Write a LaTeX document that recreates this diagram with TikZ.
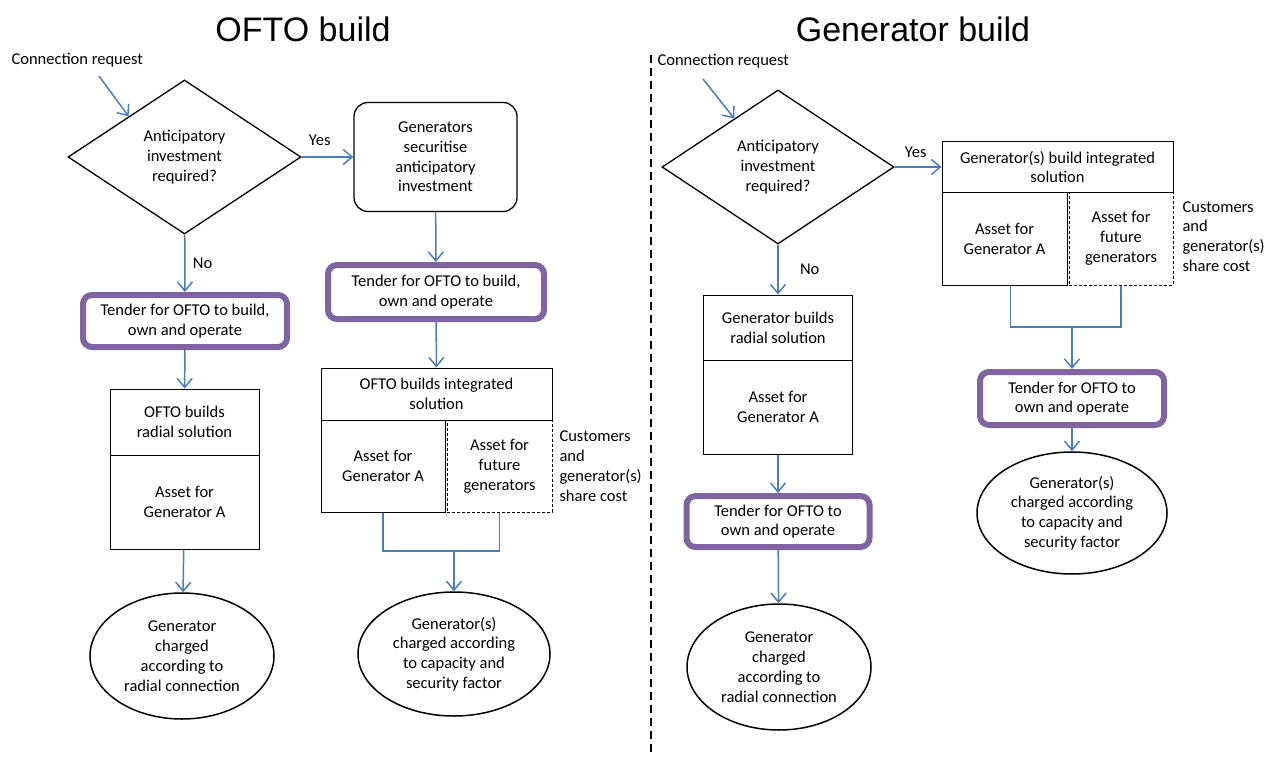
\documentclass[tikz,border=0pt]{standalone}
\usepackage{fontspec}
\setmainfont{Carlito}
\newfontfamily\headfont{Liberation Sans}
\usepackage{tikz}
\usetikzlibrary{arrows.meta,shapes.geometric,positioning}
\definecolor{flowblue}{RGB}{74,126,187}
\definecolor{tenderpurple}{RGB}{128,100,162}

\begin{document}
\begin{tikzpicture}[x=1pt,y=-1pt,font=\fontsize{16.5}{19.8}\selectfont,
    flow/.style={draw=flowblue,line width=1.5pt,-{Straight Barb[length=9pt,width=15pt]}},
    link/.style={draw=flowblue,line width=1.5pt},
    decision/.style={diamond,draw,line width=1.3pt,inner sep=0pt,aspect=1.5,align=center},
    box/.style={rectangle,draw,line width=1pt,inner sep=0pt,align=center},
    futurebox/.style={box,dash pattern=on 3pt off 2pt},
    tender/.style={rectangle,rounded corners=9pt,draw=tenderpurple,line width=6pt,inner sep=0pt,align=center},
    outcome/.style={ellipse,draw,line width=1.5pt,inner sep=0pt,align=center},
    title/.style={font=\headfont\fontsize{34}{40}\selectfont}]

  \useasboundingbox (0,0) rectangle (1267,756);

  % OFTO build
  \node[title] (t1) at (303,29) {OFTO build};
  \node[anchor=west] (req1) at (8,60) {Connection request};
  \coordinate (req1e) at (99,76);
  \node[decision,minimum width=233pt,minimum height=154pt] (d1) at (184.5,157) {Anticipatory\\investment\\required?};
  \node[box,rounded corners=14pt,line width=1.3pt,minimum width=163pt,minimum height=109pt] (sec) at (435.5,157) {Generators\\securitise\\anticipatory\\investment};
  \node[tender,minimum width=204pt,minimum height=52pt] (ten1) at (185,321) {Tender for OFTO to build,\\own and operate};
  \node[tender,minimum width=216pt,minimum height=54pt] (ten2) at (436,292) {Tender for OFTO to build,\\own and operate};
  \node[box,minimum width=149pt,minimum height=66pt] (rad1a) at (184.5,422) {OFTO builds\\radial solution};
  \node[box,minimum width=149pt,minimum height=94pt] (rad1b) at (184.5,502) {Asset for\\Generator A};
  \node[box,minimum width=231pt,minimum height=52pt] (int1) at (436.5,394) {OFTO builds integrated\\solution};
  \node[box,minimum width=124pt,minimum height=92pt] (al1) at (383,466) {Asset for\\Generator A};
  \node[futurebox,minimum width=105pt,minimum height=92pt] (af1) at (499.5,466) {Asset for\\future\\generators};
  \node[anchor=west,align=left] (share1) at (556,466) {Customers\\and\\generator(s)\\share cost};
  \node[outcome,minimum width=184pt,minimum height=126pt] (ell1) at (182,656) {Generator\\charged\\according to\\radial connection};
  \node[outcome,minimum width=192pt,minimum height=124pt] (ell2) at (454,654) {Generator(s)\\charged according\\to capacity and\\security factor};
  \coordinate (j1) at (454,551);

  \path (req1e) edge [flow] (d1.144);
  \path (d1) edge [flow] node[above=7pt,pos=0.35] {Yes} (sec);
  \path (d1) edge [flow] node[right=4pt] {No} (ten1);
  \path (sec) edge [flow] (ten2);
  \path (ten1) edge [flow] (rad1a);
  \path (ten2) edge [flow] (int1);
  \path (rad1b) edge [flow] (ell1);
  \draw[link] (al1.south) |- (j1) -| (af1.south);
  \path (j1) edge [flow] (ell2);

  % divider
  \coordinate (divtop) at (651,55);
  \coordinate (divbot) at (651,756);
  \draw[line width=1.2pt,dash pattern=on 8pt off 5pt] (divtop) -- (divbot);

  % Generator build
  \node[title] (t2) at (913,29) {Generator build};
  \node[anchor=west] (req2) at (654,61) {Connection request};
  \coordinate (req2e) at (703,79);
  \node[decision,minimum width=232pt,minimum height=154pt] (d2) at (778,167) {Anticipatory\\investment\\required?};
  \node[box,minimum width=231pt,minimum height=51pt] (int2) at (1057.5,167) {Generator(s) build integrated\\solution};
  \node[box,minimum width=125pt,minimum height=93pt] (al2) at (1004.5,238.5) {Asset for\\Generator A};
  \node[futurebox,minimum width=104pt,minimum height=93pt] (af2) at (1121,238.5) {Asset for\\future\\generators};
  \node[anchor=west,align=left] (share2) at (1179,236.5) {Customers\\and\\generator(s)\\share cost};
  \node[box,minimum width=149pt,minimum height=65pt] (rad2a) at (778,327.5) {Generator builds\\radial solution};
  \node[box,minimum width=149pt,minimum height=94pt] (rad2b) at (778,407) {Asset for\\Generator A};
  \node[tender,minimum width=183pt,minimum height=51pt] (ten4) at (778,521.5) {Tender for OFTO to\\own and operate};
  \node[tender,minimum width=184pt,minimum height=53pt] (ten3) at (1072,398.5) {Tender for OFTO to\\own and operate};
  \node[outcome,minimum width=184pt,minimum height=126pt] (ell4) at (779,667) {Generator\\charged\\according to\\radial connection};
  \node[outcome,minimum width=190pt,minimum height=122pt] (ell3) at (1072,513) {Generator(s)\\charged according\\to capacity and\\security factor};
  \coordinate (j2) at (1072,327);

  \path (req2e) edge [flow] (d2.132);
  \path (d2) edge [flow] node[above=5pt,pos=0.45] {Yes} (int2);
  \path (d2) edge [flow] node[right=18pt] {No} (rad2a);
  \path (rad2b) edge [flow] (ten4);
  \path (ten4) edge [flow] (ell4);
  \draw[link] ([xshift=6pt]al2.south) |- (j2) -| (af2.south);
  \path (j2) edge [flow] (ten3);
  \path (ten3) edge [flow] (ell3);

\end{tikzpicture}
\end{document}
